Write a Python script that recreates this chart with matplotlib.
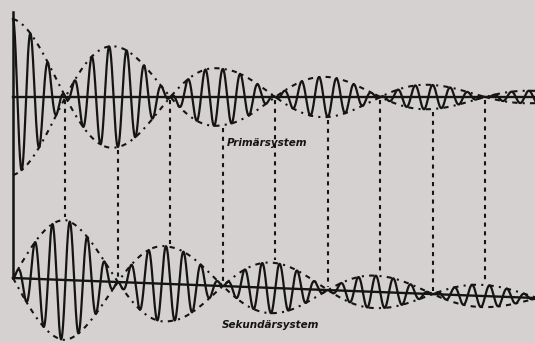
import matplotlib
matplotlib.use("Agg")
import matplotlib.pyplot as plt
import numpy as np

# beat nodes / lobe peaks (time in half-beat units)
primary_peak_t = [0, 2, 4, 6, 8, 10]
primary_peak_amp = [78, 50, 28, 20, 12, 6]
secondary_peak_t = [1, 3, 5, 7, 9, 11]
secondary_peak_amp = [60, 37, 25, 16, 11, 8]
carrier_cycles = 3.0          # carrier cycles per half-beat unit
marker_t = [1, 2, 3, 4, 5, 6, 7, 8, 9]

labels = ["Primärsystem", "Sekundärsystem"]

# layout (pixel-like units, y up)
P0 = -97.0
S0 = -278.0
S_drop = 20.0
t_end = 9.95

bg = "#d6d1d1"
ink = "#141414"

t = np.linspace(0, t_end, 6000)
beat = np.pi * t / 2


def prim_env(tt):
    return np.interp(tt, primary_peak_t, primary_peak_amp) * np.abs(np.cos(np.pi * tt / 2))


def sec_env(tt):
    return np.interp(tt, secondary_peak_t, secondary_peak_amp) * np.abs(np.sin(np.pi * tt / 2))


def sec_base(tt):
    return S0 - S_drop * np.asarray(tt) / t_end


prim = np.interp(t, primary_peak_t, primary_peak_amp) * np.cos(beat) * np.cos(2 * np.pi * carrier_cycles * t)
sec = np.interp(t, secondary_peak_t, secondary_peak_amp) * np.sin(beat) * np.sin(2 * np.pi * carrier_cycles * t)

fig = plt.figure(figsize=(5.35, 3.43), dpi=100)
fig.patch.set_facecolor(bg)
ax = fig.add_axes([0, 0, 1, 1])
ax.set_facecolor(bg)
ax.set_xlim(-13 / 52.5, t_end)
ax.set_ylim(-343, 0)
ax.axis("off")

# axes lines
ax.plot([0, t_end], [P0, P0], color=ink, lw=1.7)
ax.plot(t, sec_base(t), color=ink, lw=1.7)
ax.plot([0, 0], [P0 + 85, S0], color=ink, lw=1.8)

# oscillations
ax.plot(t, P0 + prim, color=ink, lw=1.6)
ax.plot(t, sec_base(t) + sec, color=ink, lw=1.6)

# envelopes
env_style = dict(color=ink, lw=1.5, linestyle=(0, (2.5, 2.5, 1, 2.5)))
ax.plot(t, P0 + prim_env(t), **env_style)
ax.plot(t, P0 - prim_env(t), **env_style)
ax.plot(t, sec_base(t) + sec_env(t), **env_style)
ax.plot(t, sec_base(t) - sec_env(t), **env_style)

# vertical connecting lines
for m in marker_t:
    if m % 2 == 1:
        y_top = P0
        y_bot = sec_base(m) + sec_env(m)
    else:
        y_top = P0 - prim_env(m)
        y_bot = sec_base(m)
    ax.plot([m, m], [y_top - 3, y_bot + 3], color=ink, lw=1.5, linestyle=(0, (2, 2.2)))

ax.text(4.85, P0 - 46, labels[0], fontsize=7.5, fontstyle="italic", fontweight="bold",
        color=ink, ha="center", va="center")
ax.text(4.9, -325, labels[1], fontsize=7.5, fontstyle="italic", fontweight="bold",
        color=ink, ha="center", va="center")

plt.savefig("out.png", dpi=100, facecolor=bg)
plt.close(fig)
